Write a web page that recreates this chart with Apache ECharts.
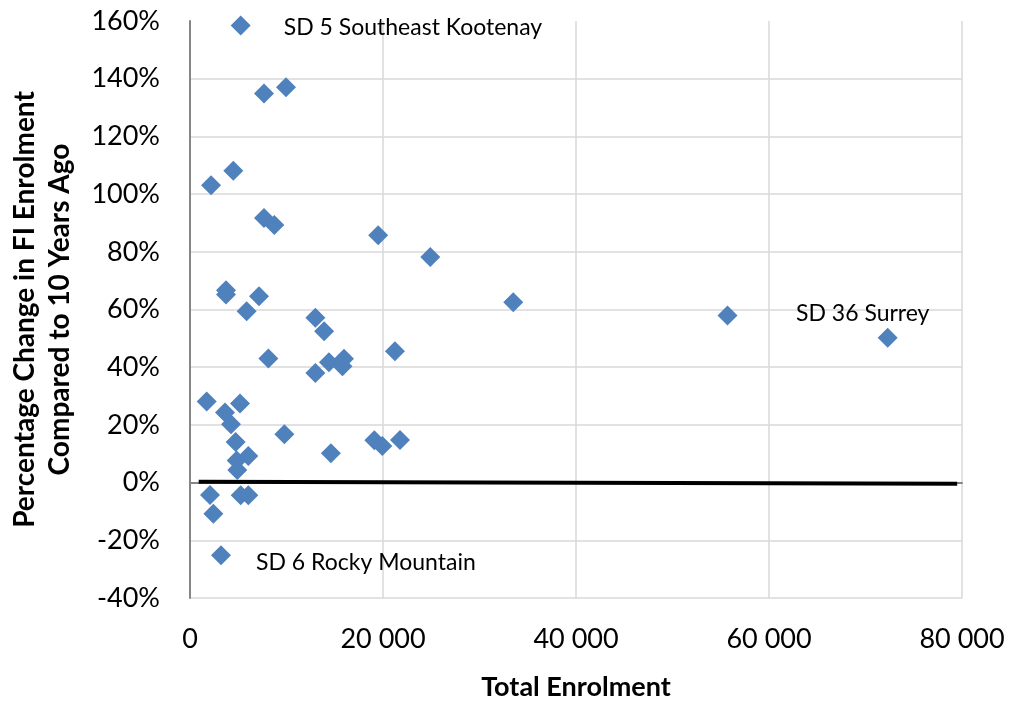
<!DOCTYPE html>
<html>
<head>
<meta charset="utf-8">
<script src="https://cdn.jsdelivr.net/npm/echarts@6/dist/echarts.min.js"></script>
<style>
  html, body { margin: 0; padding: 0; background: #fff; }
  #chart { width: 1010px; height: 702px; }
</style>
</head>
<body>
<div id="chart"></div>
<script>
// total enrolment per district
const enrolment = [
  5250, 7670, 9950, 2180, 4490, 7670, 8740, 19500, 24900, 33500, 55700, 72300,
  3730, 3730, 7150, 5870, 12990, 13900, 8120, 21240, 14400, 15960, 15800, 12990,
  1730, 5180, 3630, 4250, 9780, 4730, 14600, 19100, 19930, 21760, 6040, 4840,
  4900, 2070, 5250, 6040, 2420, 3210
];
// % change in FI enrolment vs 10 years ago
const pctChange = [
  158.4, 134.9, 137.0, 103.1, 108.1, 91.7, 89.3, 85.7, 78.2, 62.5, 57.9, 50.2,
  66.7, 65.2, 64.6, 59.4, 57.1, 52.5, 43.0, 45.5, 41.7, 42.9, 40.3, 38.0,
  28.1, 27.4, 24.3, 20.2, 16.8, 14.1, 10.2, 14.7, 12.7, 14.8, 9.2, 7.7,
  4.4, -4.3, -4.4, -4.4, -10.8, -25.2
];
// named districts (others unlabeled)
const districtNames = {
  0: "SD 5 Southeast Kootenay",
  11: "SD 36 Surrey",
  41: "SD 6 Rocky Mountain"
};
// trend line end points [enrolment, %]
const trendX = [900, 79500];
const trendY = [0.3, -0.4];

const xTicks = { min: 0, max: 80000, step: 20000 };
const yTicks = { min: -40, max: 160, step: 20 };

const FONT = "Lato";

// label placement for the named points
const labelStyle = {
  0: { position: "right", distance: 33, offset: [0, 2] },
  11: { position: "top", distance: 3, offset: [-25, 0] },
  41: { position: "right", distance: 25, offset: [0, 7] }
};

const points = enrolment.map((x, i) => {
  let item = { value: [x, pctChange[i]] };
  if (districtNames[i]) {
    item.name = districtNames[i];
    item.label = Object.assign({
      show: true,
      formatter: districtNames[i],
      color: "#000",
      fontFamily: FONT,
      fontSize: 23
    }, labelStyle[i]);
  }
  return item;
});

function spaced(v) {
  return String(v).replace(/\B(?=(\d{3})+(?!\d))/g, " ");
}

let myCharts = echarts.init(document.getElementById("chart"));
let option = {
  animation: false,
  backgroundColor: "#fff",
  grid: { left: 190, top: 21, right: 48, bottom: 104, outerBoundsMode: "none" },
  xAxis: {
    type: "value",
    min: xTicks.min,
    max: xTicks.max,
    interval: xTicks.step,
    name: "Total Enrolment",
    nameLocation: "middle",
    nameGap: 76,
    nameTextStyle: { fontFamily: FONT, fontWeight: "bold", fontSize: 27, color: "#000" },
    axisLine: { show: true, lineStyle: { color: "#868686", width: 2 } },
    axisTick: { show: false },
    axisLabel: { formatter: spaced, fontFamily: FONT, fontSize: 27, color: "#000", margin: 28 },
    splitLine: { show: true, lineStyle: { color: "#d9d9d9", width: 1.5 } }
  },
  yAxis: {
    type: "value",
    min: yTicks.min,
    max: yTicks.max,
    interval: yTicks.step,
    name: "Percentage Change in FI Enrolment\nCompared to 10 Years Ago",
    nameLocation: "middle",
    nameRotate: 90,
    nameGap: 113,
    nameTextStyle: { fontFamily: FONT, fontWeight: "bold", fontSize: 28, color: "#000", lineHeight: 35 },
    axisLine: { show: true, lineStyle: { color: "#868686", width: 2 } },
    axisTick: { show: false },
    axisLabel: { formatter: "{value}%", fontFamily: FONT, fontSize: 27, color: "#000", margin: 30 },
    splitLine: { show: true, showMaxLine: false, lineStyle: { color: "#d9d9d9", width: 1.5 } }
  },
  series: [
    {
      type: "line",
      data: trendX.map((x, i) => [x, trendY[i]]),
      showSymbol: false,
      lineStyle: { color: "#000", width: 4 },
      z: 2
    },
    {
      type: "scatter",
      symbol: "diamond",
      symbolSize: 20,
      itemStyle: { color: "#4f81bd", opacity: 1 },
      data: points,
      z: 3
    }
  ]
};
myCharts.setOption(option);
</script>
</body>
</html>
